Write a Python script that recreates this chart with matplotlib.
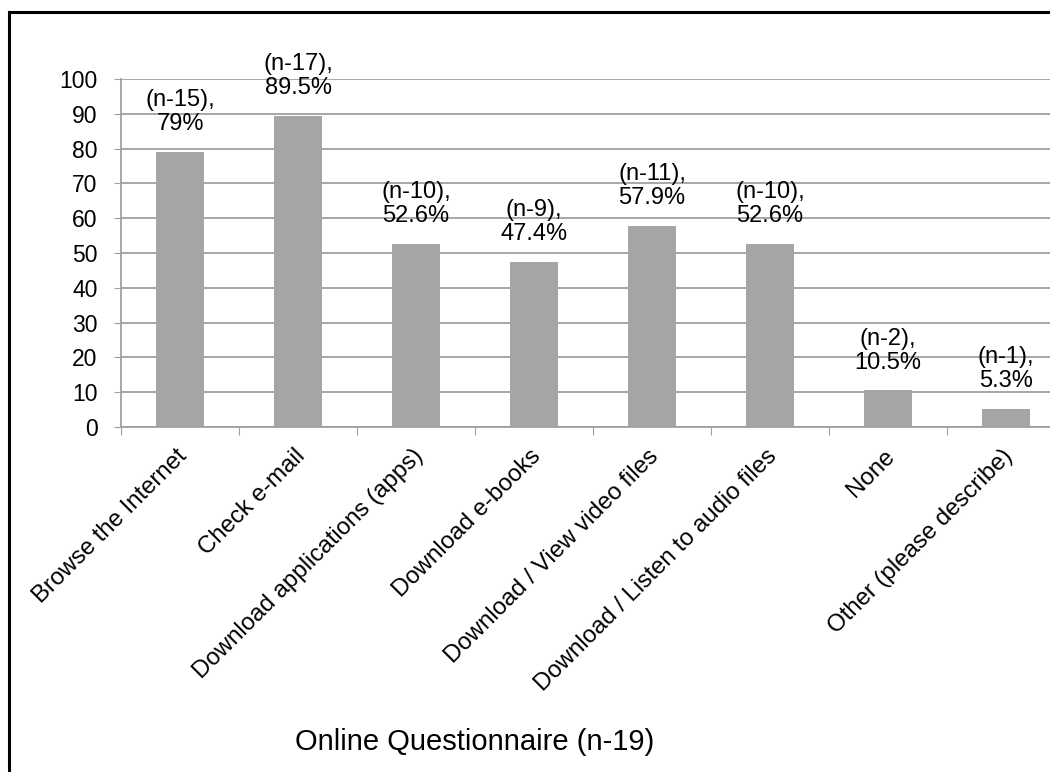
import matplotlib.pyplot as plt
from matplotlib.patches import Rectangle
from matplotlib.transforms import ScaledTranslation

plt.rcParams["font.family"] = ["Liberation Sans", "DejaVu Sans"]

# --- DATA ---
categories = [
    "Browse the Internet",
    "Check e-mail",
    "Download applications (apps)",
    "Download e-books",
    "Download / View video files",
    "Download / Listen to audio files",
    "None",
    "Other (please describe)",
]
counts = [15, 17, 10, 9, 11, 10, 2, 1]
percents = [79, 89.5, 52.6, 47.4, 57.9, 52.6, 10.5, 5.3]
pct_labels = ["79%", "89.5%", "52.6%", "47.4%", "57.9%", "52.6%", "10.5%", "5.3%"]
y_ticks = list(range(0, 101, 10))
x_title = "Online Questionnaire (n-19)"

BAR_COLOR = "#A5A5A5"
GRID_COLOR = "#A0A0A0"

fig = plt.figure(figsize=(10.5, 7.72), dpi=100)
W, H = 1050, 772

# axes placed in pixel terms; right side runs past the canvas edge
left_px, right_px, top_px, bottom_px = 121, 1065, 79, 427
ax = fig.add_axes([left_px / W, 1 - bottom_px / H,
                   (right_px - left_px) / W, (bottom_px - top_px) / H])

x = list(range(len(categories)))
ax.bar(x, percents, width=0.41, color=BAR_COLOR, zorder=2)

ax.set_xlim(-0.5, len(categories) - 0.5)
ax.set_ylim(0, 100)
ax.set_yticks(y_ticks)
ax.tick_params(axis="y", labelsize=16.5, length=5, color=GRID_COLOR, pad=12)
ax.grid(axis="y", color=GRID_COLOR, linewidth=1.3, zorder=0)

# category ticks sit between bars
ax.set_xticks([i - 0.5 for i in x], minor=False)
ax.set_xticklabels([])
ax.set_xticks(x, minor=True)
ax.set_xticklabels(categories, minor=True, rotation=45, ha="right",
                   va="top", rotation_mode="anchor", fontsize=17.3)
ax.tick_params(axis="x", which="major", length=6, color=GRID_COLOR)
ax.tick_params(axis="x", which="minor", length=0, pad=13)
shift = ScaledTranslation(-3 / 72, 0, fig.dpi_scale_trans)
for lbl in ax.get_xticklabels(minor=True):
    lbl.set_transform(lbl.get_transform() + shift)

for side in ["top", "right"]:
    ax.spines[side].set_visible(False)
for side in ["left", "bottom"]:
    ax.spines[side].set_color(GRID_COLOR)
    ax.spines[side].set_linewidth(1.3)

# value labels above each bar
for xi, val, n, lab in zip(x, percents, counts, pct_labels):
    ax.annotate(f"(n-{n}),\n{lab}", xy=(xi, val), xytext=(0, 12),
                textcoords="offset points", ha="center", va="bottom",
                fontsize=17, linespacing=1.12, zorder=3)

fig.text(475 / W, 1 - 750 / H, x_title, ha="center", va="baseline", fontsize=21)

# outer frame
fig.patches.append(Rectangle((8.5 / W, -0.05), 1.1, 1 - 12 / H + 0.05,
                             transform=fig.transFigure, fill=False,
                             edgecolor="black", linewidth=2.2))

fig.savefig("out.png", dpi=100)
